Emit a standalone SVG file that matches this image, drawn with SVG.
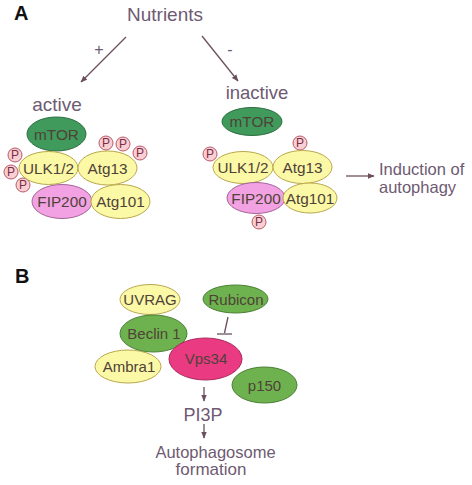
<svg xmlns="http://www.w3.org/2000/svg" width="472" height="485" viewBox="0 0 472 485">
<style>
text{font-family:"Liberation Sans",Arial,sans-serif;}
.lbl{fill:#6e5a72;text-anchor:middle;}
.st{fill:#6e5a72;text-anchor:start;}
.in{fill:#4f4238;text-anchor:middle;font-size:15.3px;}
.inb{fill:#4f4238;text-anchor:middle;font-size:15px;}
.big{fill:#111;font-weight:bold;font-size:20px;}
.dg{fill:#3f9a5c;stroke:#2f6e42;stroke-width:1;}
.lg{fill:#6eb24f;stroke:#4b7f36;stroke-width:1;}
.ye{fill:#fbf8a6;stroke:#b9a84c;stroke-width:1;}
.pk{fill:#f2a2e2;stroke:#a46596;stroke-width:1;}
.mg{fill:#ea3a82;stroke:#a82a5c;stroke-width:1;}
.pc{fill:#f9cfd2;stroke:#b85a6c;stroke-width:1;}
.pt{fill:#7a2d48;text-anchor:middle;font-size:12px;}
.ln{stroke:#6b4f5f;stroke-width:1.3;fill:none;}
</style>
<defs>
<marker id="ah" viewBox="0 0 10 10" refX="9" refY="5" markerWidth="7" markerHeight="7" markerUnits="userSpaceOnUse" orient="auto">
<path d="M0,1 L10,5 L0,9 z" fill="#6b4f5f"/>
</marker>
</defs>

<text class="big" x="14" y="20">A</text>
<text class="big" x="15" y="283">B</text>

<g id="connectors">
<line class="ln" x1="126" y1="37" x2="81" y2="82" marker-end="url(#ah)"/>
<line class="ln" x1="202" y1="36" x2="238" y2="81" marker-end="url(#ah)"/>
<line class="ln" x1="346" y1="176" x2="374" y2="176" marker-end="url(#ah)"/>
<line class="ln" x1="228" y1="317" x2="224.5" y2="333"/>
<line class="ln" x1="217" y1="334" x2="232" y2="334"/>
<line class="ln" x1="204" y1="387" x2="204" y2="401" marker-end="url(#ah)"/>
<line class="ln" x1="204" y1="424" x2="204" y2="438" marker-end="url(#ah)"/>
</g>

<g id="nutrients"><text class="lbl" x="165" y="21" font-size="19">Nutrients</text></g>
<text class="lbl" x="99" y="55" font-size="16">+</text>
<text class="lbl" x="230" y="55" font-size="16">-</text>

<g id="active-label"><text class="lbl" x="57" y="111" font-size="19">active</text></g>
<g id="inactive-label"><text class="lbl" x="257" y="99" font-size="18.5">inactive</text></g>

<!-- Active complex -->
<g id="active-p">
<circle class="pc" cx="15" cy="155" r="7"/><text class="pt" x="15" y="159.3">P</text>
<circle class="pc" cx="11" cy="172" r="7"/><text class="pt" x="11" y="176.3">P</text>
<circle class="pc" cx="23" cy="185" r="7"/><text class="pt" x="23" y="189.3">P</text>
<circle class="pc" cx="106" cy="143" r="7"/><text class="pt" x="106" y="147.3">P</text>
<circle class="pc" cx="123" cy="144" r="7"/><text class="pt" x="123" y="148.3">P</text>
<circle class="pc" cx="140" cy="153" r="7"/><text class="pt" x="140" y="157.3">P</text>
</g>
<g id="active-mTOR"><ellipse class="dg" cx="56.5" cy="134" rx="29.5" ry="17"/><text class="in" x="56.5" y="139.5">mTOR</text></g>
<g id="active-ULK"><ellipse class="ye" cx="48.5" cy="168" rx="29.5" ry="16.5"/><text class="in" x="48.5" y="173.5">ULK1/2</text></g>
<g id="active-Atg13"><ellipse class="ye" cx="107.5" cy="168" rx="29.5" ry="17"/><text class="in" x="107.5" y="173.5">Atg13</text></g>
<g id="active-FIP200"><ellipse class="pk" cx="62" cy="201.5" rx="30" ry="17"/><text class="in" x="62" y="207">FIP200</text></g>
<g id="active-Atg101"><ellipse class="ye" cx="120.5" cy="201.5" rx="29.5" ry="17"/><text class="in" x="120.5" y="207">Atg101</text></g>

<!-- Inactive complex -->
<g id="inactive-p">
<circle class="pc" cx="210" cy="154" r="7"/><text class="pt" x="210" y="158.3">P</text>
<circle class="pc" cx="300" cy="143" r="7"/><text class="pt" x="300" y="147.3">P</text>
<circle class="pc" cx="259" cy="222" r="7"/><text class="pt" x="259" y="226.3">P</text>
</g>
<g id="inactive-mTOR"><ellipse class="dg" cx="252" cy="121.5" rx="30" ry="14"/><text class="in" x="252" y="127">mTOR</text></g>
<g id="inactive-ULK"><ellipse class="ye" cx="243" cy="167.5" rx="30" ry="16"/><text class="in" x="243" y="173">ULK1/2</text></g>
<g id="inactive-Atg13"><ellipse class="ye" cx="302.5" cy="167" rx="29.5" ry="16.5"/><text class="in" x="302.5" y="172.5">Atg13</text></g>
<g id="inactive-FIP200"><ellipse class="pk" cx="256" cy="198" rx="29" ry="15.5"/><text class="in" x="256" y="203.5">FIP200</text></g>
<g id="inactive-Atg101"><ellipse class="ye" cx="310" cy="198" rx="27" ry="15"/><text class="in" x="310" y="203.5">Atg101</text></g>

<g id="induction"><text class="st" x="379" y="175" font-size="16.5">Induction of</text><text class="st" x="379" y="193" font-size="16.5">autophagy</text></g>

<!-- B -->
<g id="UVRAG"><ellipse class="ye" cx="150" cy="299.5" rx="30" ry="15"/><text class="inb" x="150" y="305">UVRAG</text></g>
<g id="Ambra1"><ellipse class="ye" cx="128" cy="366.5" rx="33" ry="16.5"/><text class="inb" x="129" y="372">Ambra1</text></g>
<g id="Beclin1"><ellipse class="lg" cx="153.5" cy="333.5" rx="33.5" ry="18.5"/><text class="inb" x="154" y="339">Beclin 1</text></g>
<g id="Vps34"><ellipse class="mg" cx="205.5" cy="359" rx="36.5" ry="21"/><text class="inb" x="206" y="364">Vps34</text></g>
<g id="p150"><ellipse class="lg" cx="264.5" cy="385" rx="32.5" ry="18"/><text class="inb" x="264.5" y="390.5">p150</text></g>
<g id="Rubicon"><ellipse class="lg" cx="235.5" cy="299" rx="32.5" ry="14"/><text class="inb" x="236" y="304.5">Rubicon</text></g>

<g id="PI3P"><text class="lbl" x="203" y="421" font-size="18">PI3P</text></g>
<g id="autophagosome"><text class="lbl" x="215.5" y="458" font-size="16.5">Autophagosome</text><text class="lbl" x="211" y="475" font-size="17">formation</text></g>
</svg>
